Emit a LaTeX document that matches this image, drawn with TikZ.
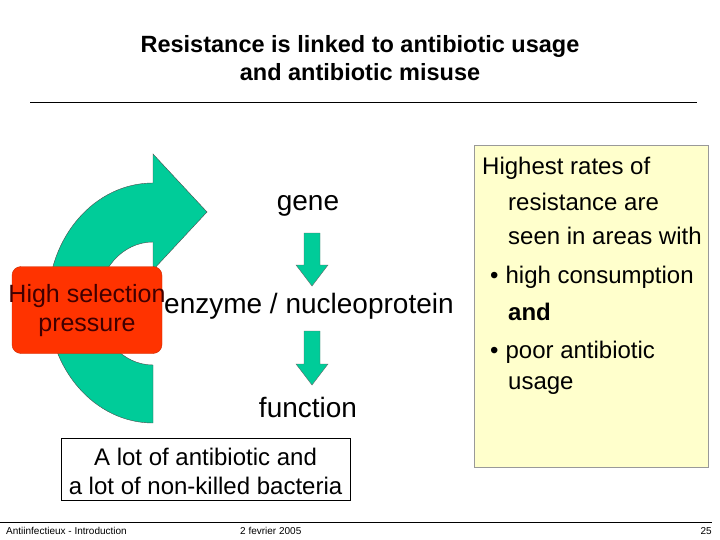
\documentclass[tikz,border=0pt]{standalone}
\usepackage{fontspec}
\setmainfont{Liberation Sans}
\begin{document}
\begin{tikzpicture}[x=1pt,y=-1pt,
  txt/.style={inner sep=0pt,align=center,font=\fontsize{28}{34}\selectfont},
  rtxt/.style={inner sep=0pt,anchor=west,align=left,font=\fontsize{24}{28}\selectfont}]
\useasboundingbox (0,0) rectangle (720,540);
\definecolor{tealg}{HTML}{00CC99}
\definecolor{redb}{HTML}{FF3300}
\definecolor{lyel}{HTML}{FFFFCC}
\node[inner sep=0pt,align=center,font=\bfseries\fontsize{23.5}{28}\selectfont] (title) at (360,58) {Resistance is linked to antibiotic usage\\and antibiotic misuse};
\draw[line width=0.6pt] (30,102) -- (697,102);
% curved arrow
\draw[fill=tealg,draw=black!70,line width=0.4pt]
  (153,423) arc[start angle=90,end angle=270,x radius=105,y radius=120]
  -- (153,154) -- (207,212) -- (153,270) -- (153,242)
  arc[start angle=270,end angle=90,x radius=55,y radius=61.5] -- cycle;
\node[draw=redb!80!black,fill=redb,rounded corners=9pt,minimum width=150pt,minimum height=87pt,inner sep=0pt] (sel) at (87,310) {};
\node[txt,font=\fontsize{25}{29}\selectfont,text=black!75!red] at (87,311) {High selection\\pressure};
\node[txt] (gene) at (308,206) {gene};
\node[txt,anchor=west] (enz) at (164,306) {enzyme / nucleoprotein};
\node[txt] (func) at (308,407) {function};
\fill[tealg,draw=black!60] (304,233) -- (320,233) -- (320,265) -- (328,265) -- (312,286) -- (296,265) -- (304,265) -- cycle;
\fill[tealg,draw=black!60] (304,331) -- (320,331) -- (320,364) -- (328,364) -- (312,385) -- (296,364) -- (304,364) -- cycle;
\node[draw=black,line width=0.6pt,minimum width=289pt,minimum height=62pt,inner sep=0pt] (lot) at (205.5,469) {};
\node[txt,font=\fontsize{24}{29}\selectfont] at (205.5,471) {A lot of antibiotic and\\a lot of non-killed bacteria};
\node[draw=black!40,fill=lyel,line width=0.8pt,minimum width=234pt,minimum height=322pt,inner sep=0pt] (box) at (591,306) {};
\node[rtxt] at (482,168) {Highest rates of};
\node[rtxt] at (508,202) {resistance are};
\node[rtxt] at (508,236) {seen in areas with};
\node[rtxt] at (490,277) {\textbullet\hspace{7pt}high consumption};
\node[rtxt,font=\bfseries\fontsize{24}{28}\selectfont] at (508,312) {and};
\node[rtxt] at (490,352) {\textbullet\hspace{7pt}poor antibiotic};
\node[rtxt] at (508,386) {usage};
\draw[line width=0.6pt] (0,522) -- (712,522);
\node[inner sep=0pt,anchor=west,font=\fontsize{10}{12}\selectfont] at (6,531) {Antiinfectieux - Introduction};
\node[inner sep=0pt,anchor=west,font=\fontsize{10}{12}\selectfont] at (240,531) {2 fevrier 2005};
\node[inner sep=0pt,anchor=east,font=\fontsize{10}{12}\selectfont] at (712,531) {25};
\end{tikzpicture}
\end{document}
